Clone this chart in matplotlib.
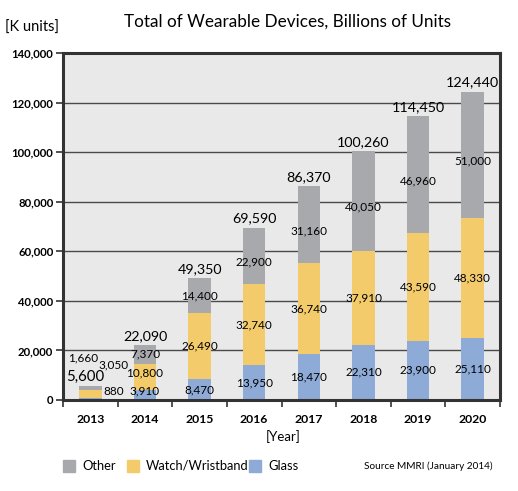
import matplotlib
matplotlib.use("Agg")
import matplotlib.pyplot as plt
from matplotlib.patches import Rectangle
import numpy as np

plt.rcParams['font.family'] = ['Lato', 'DejaVu Sans']

years = ["2013", "2014", "2015", "2016", "2017", "2018", "2019", "2020"]
glass = [880, 3910, 8470, 13950, 18470, 22310, 23900, 25110]
watch = [3050, 10800, 26490, 32740, 36740, 37910, 43590, 48330]
other = [1660, 7370, 14400, 22900, 31160, 40050, 46960, 51000]
totals = [5600, 22090, 49350, 69590, 86370, 100260, 114450, 124440]

c_other = "#a7a9ac"
c_watch = "#f3cb6a"
c_glass = "#8eaad6"

fig = plt.figure(figsize=(5.18, 4.91), dpi=100)
ax = fig.add_axes([63/518, 1-400/491, (500-63)/518, (400-53)/491])
ax.set_facecolor("#e9e9ea")

x = np.arange(len(years))
w = 0.41
g = np.array(glass); wa = np.array(watch); o = np.array(other)
ax.bar(x, g, w, color=c_glass, zorder=3)
ax.bar(x, wa, w, bottom=g, color=c_watch, zorder=3)
ax.bar(x, o, w, bottom=g + wa, color=c_other, zorder=3)

ax.set_xlim(-0.5, 7.5)
ax.set_ylim(0, 140000)
ax.set_yticks(np.arange(0, 140001, 20000))
ax.set_yticklabels([f"{v:,}" for v in range(0, 140001, 20000)], fontsize=8.2, fontweight='bold')
ax.yaxis.grid(True, color="#4a4a4a", linewidth=1.0, zorder=1)
ax.set_axisbelow(True)
ax.set_xticks(x)
ax.set_xticklabels(years, fontsize=8.8, fontweight='bold')
ax.set_xticks(np.arange(-0.5, 7.6, 1), minor=True)
ax.tick_params(axis='x', which='major', length=0, pad=10)
ax.tick_params(axis='x', which='minor', length=5, width=1.2, color="#333333", direction='out')
ax.tick_params(axis='y', length=5, width=1.2, color="#333333", direction='out', pad=2)
for s in ax.spines.values():
    s.set_color("#333333")
    s.set_linewidth(2.2)
    s.set_zorder(5)

fs = 8.5
tfs = 10.3
# segment labels
for i in range(len(years)):
    if i == 0:
        continue
    glab_y = g[i] / 2 + (1650 if i == 1 else 0)
    wlab_y = g[i] + wa[i] / 2 + (1500 if i == 1 else 0)
    ax.text(x[i], glab_y, f"{glass[i]:,}", ha='center', va='center', fontsize=fs, zorder=6)
    ax.text(x[i], wlab_y, f"{watch[i]:,}", ha='center', va='center', fontsize=fs, zorder=6)
    ax.text(x[i], g[i] + wa[i] + o[i] / 2 - (2500 if i >= 3 else 0), f"{other[i]:,}", ha='center',
            va='center', fontsize=fs, zorder=6)
    ax.text(x[i], totals[i] + 1200, f"{totals[i]:,}", ha='center', va='bottom', fontsize=tfs, zorder=6)

# 2013 labels placed beside the small bar
ax.text(x[0] + 0.43, 3600, f"{glass[0]:,}", ha='center', va='center', fontsize=fs, zorder=6)
ax.text(x[0] + 0.43, 14100, f"{watch[0]:,}", ha='center', va='center', fontsize=fs, zorder=6)
ax.text(x[0] - 0.14, 16800, f"{other[0]:,}", ha='center', va='center', fontsize=fs, zorder=6)
ax.text(x[0] - 0.09, 9200, f"{totals[0]:,}", ha='center', va='center', fontsize=tfs + 0.5, zorder=6)

fig.text(288/518, 1-22/491, "Total of Wearable Devices, Billions of Units", ha='center', va='center',
         fontsize=12.3)
fig.text(5/518, 1-28/491, "[K units]", ha='left', va='center', fontsize=10.5)
fig.text(283/518, 1-437/491, "[Year]", ha='center', va='center', fontsize=9.5)

# legend
leg_items = [("Other", c_other, 63), ("Watch/Wristband", c_watch, 127), ("Glass", c_glass, 249)]
for lab, col, px in leg_items:
    fig.patches.append(Rectangle((px/518, 1-472/491), 12/518, 12/491, transform=fig.transFigure,
                                 color=col, figure=fig))
    fig.text((px+19)/518, 1-466/491, lab, ha='left', va='center', fontsize=9.3)
fig.text(493/518, 1-466/491, "Source MMRI (January 2014)", ha='right', va='center', fontsize=7.2)

fig.savefig("out.png", dpi=100)
